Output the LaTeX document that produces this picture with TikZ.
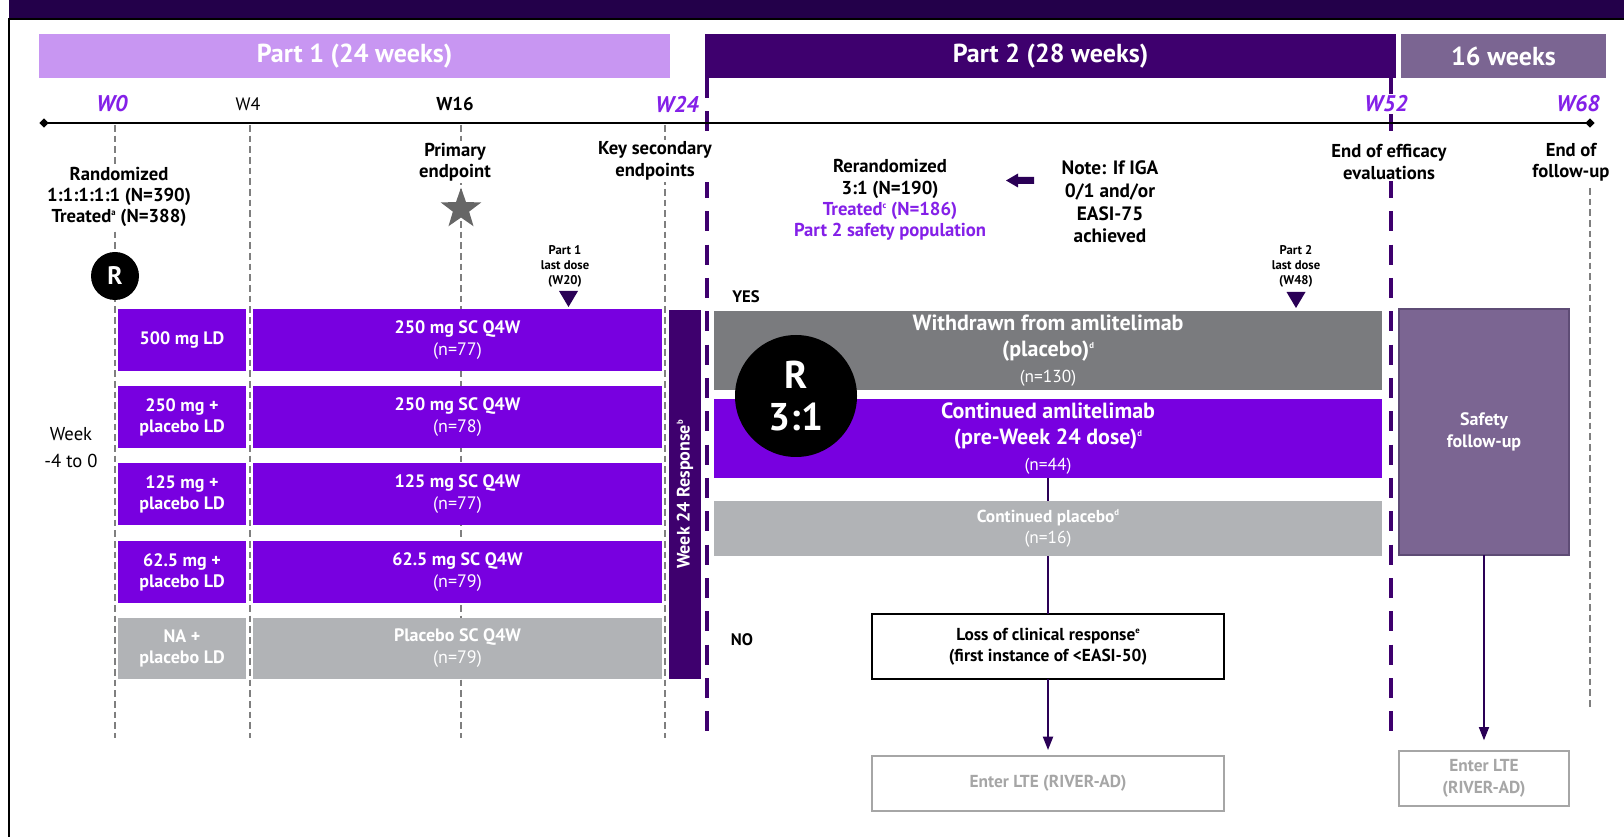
\documentclass[tikz,border=0pt]{standalone}
\usepackage{fontspec}
\setmainfont{PT Sans}
\usetikzlibrary{shapes.geometric,arrows.meta}
\definecolor{topband}{HTML}{23004A}
\definecolor{darkpurple}{HTML}{3E006E}
\definecolor{lightpurple}{HTML}{C896F2}
\definecolor{vivid}{HTML}{7800E0}
\definecolor{textpurple}{HTML}{8420E8}
\definecolor{lightgrey}{HTML}{B1B3B6}
\definecolor{darkgrey}{HTML}{7A7B7E}
\definecolor{mauve}{HTML}{7B6592}
\definecolor{safborder}{HTML}{5E4C75}
\definecolor{tripurple}{HTML}{2A0056}
\definecolor{dashgrey}{HTML}{7F7F7F}
\definecolor{ltegrey}{HTML}{A6A6A6}
\definecolor{stargrey}{HTML}{666666}
\newcommand\myfs[2]{\fontsize{#1}{#2}\selectfont}
\newcommand\msup[1]{\raisebox{0.75ex}{\myfs{6.5}{7}#1}}
\newcommand\rectnode[7]{%
  \node[box,#6,minimum width={((#4)-(#2))*0.75pt},minimum height={((#5)-(#3))*0.75pt}]
    (#1) at ({((#2)+(#4))/2},{((#3)+(#5))/2}) {#7};}
\begin{document}
\begin{tikzpicture}[x=0.75pt,y=-0.75pt,
  box/.style={inner sep=0pt,outer sep=0pt,align=center,text=white},
  lbl/.style={inner sep=1.5pt,align=center,fill=white,font=\myfs{14}{16}\bfseries},
  gdash/.style={draw=dashgrey,line width=0.8pt,dash pattern=on 5pt off 3pt},
  pdash/.style={draw=darkpurple,line width=2.4pt,dash pattern=on 15pt off 10pt},
  wlab/.style={font=\myfs{17}{19}\bfseries\itshape,text=textpurple,fill=white,inner sep=1pt},
  bartitle/.style={font=\myfs{19.5}{22}\bfseries},
  leftbox/.style={fill=vivid,font=\myfs{13.5}{15.75}\bfseries},
  mainbox/.style={fill=vivid,font=\myfs{13.5}{16.5}},
  conn/.style={draw=tripurple,line width=1.4pt},
  arr/.style={conn,-{Triangle[length=10pt,width=7.5pt]}}
]
\useasboundingbox (0,0) rectangle (1624,837);
% frame
\fill[topband] (9,0) rectangle (1624,18);
\draw[line width=1.8pt] (9,837) -- (9,19) -- (1624,19);

% phase bars
\rectnode{p1}{39}{34}{670}{78}{fill=lightpurple,bartitle}{Part 1 (24 weeks)}
\rectnode{p2}{705}{34}{1396}{78}{fill=darkpurple,bartitle}{Part 2 (28 weeks)}
\rectnode{p3}{1401}{34}{1606}{78}{fill=mauve,bartitle}{16 weeks}

% vertical guide lines
\draw[gdash] (115,125) -- (115,738);
\draw[gdash] (250,125) -- (250,738);
\draw[gdash] (461,125) -- (461,738);
\draw[gdash] (665,125) -- (665,738);
\draw[gdash] (1590,188) -- (1590,707);
\draw[pdash] (707,78) -- (707,733);
\draw[pdash] (1391,78) -- (1391,733);

% timeline
\node[diamond,fill=black,inner sep=0pt,minimum size=7pt] (tlL) at (44,123) {};
\node[diamond,fill=black,inner sep=0pt,minimum size=7pt] (tlR) at (1590,123) {};
\draw[line width=2pt] (tlL.center) -- (tlR.center);

% week labels
\node[wlab] (w0) at (112,104) {W0};
\node[lbl,font=\myfs{13.5}{16}] (w4) at (248,104) {W4};
\node[lbl] (w16) at (455,104) {W16};
\node[wlab] (w24) at (677,104) {W24};
\node[wlab] (w52) at (1386,104) {W52};
\node[wlab] (w68) at (1578,104) {W68};

% part 1 annotations
\node[lbl] (rand) at (119,197) {Randomized\\1:1:1:1:1 (N=390)\\Treated\msup{a} (N=388)};
\node[circle,fill=black,inner sep=0pt,minimum size=36pt,text=white,font=\myfs{19}{22}\bfseries] (r1) at (115,276) {R};
\node[lbl] (prim) at (455,162) {Primary\\endpoint};
\node[star,star points=5,star point ratio=2.5,fill=stargrey,inner sep=0pt,minimum size=32pt] (star) at (461,209) {};
\node[lbl] (keysec) at (655,161) {Key secondary\\endpoints};
\node[lbl,font=\myfs{9.5}{11.25}\bfseries] (ld1) at (565,266) {Part 1\\last dose\\(W20)};
\fill[tripurple] (559,291) -- (578,291) -- (568.5,307) -- cycle;

\node[align=center,font=\myfs{14}{20.25}] (wk) at (71,448) {Week\\-4 to 0};

% part 1 arms
\rectnode{l1}{118}{309}{246}{371}{leftbox}{500 mg LD}
\rectnode{m1}{253}{309}{662}{371}{mainbox}{\textbf{250 mg SC Q4W}\\(n=77)}
\rectnode{l2}{118}{386}{246}{448}{leftbox}{250 mg +\\placebo LD}
\rectnode{m2}{253}{386}{662}{448}{mainbox}{\textbf{250 mg SC Q4W}\\(n=78)}
\rectnode{l3}{118}{463}{246}{525}{leftbox}{125 mg +\\placebo LD}
\rectnode{m3}{253}{463}{662}{525}{mainbox}{\textbf{125 mg SC Q4W}\\(n=77)}
\rectnode{l4}{118}{541}{246}{603}{leftbox}{62.5 mg +\\placebo LD}
\rectnode{m4}{253}{541}{662}{603}{mainbox}{\textbf{62.5 mg SC Q4W}\\(n=79)}
\rectnode{l5}{118}{618}{246}{679}{leftbox,fill=lightgrey}{NA +\\placebo LD}
\rectnode{m5}{253}{618}{662}{679}{mainbox,fill=lightgrey}{\textbf{Placebo SC Q4W}\\(n=79)}

% week 24 response
\rectnode{w24r}{669}{310}{701}{679}{fill=darkpurple}{}
\node[rotate=90,text=white,font=\myfs{13.5}{15}\bfseries] (w24rt) at (w24r.center) {Week 24 Response\msup{b}};

% part 2 annotations
\node[lbl] (rerand) at (890,200) {Rerandomized\\3:1 (N=190)\\\textcolor{textpurple}{Treated\msup{c} (N=186)}\\\textcolor{textpurple}{Part 2 safety population}};
\fill[tripurple] (1034,177) -- (1018,177) -- (1018,173.5) -- (1006,180.5) -- (1018,187.5) -- (1018,184) -- (1034,184) -- cycle;
\node[lbl,font=\myfs{14.5}{17}\bfseries] (note) at (1110,202) {Note: If IGA\\0/1 and/or\\EASI-75\\achieved};
\node[lbl] (eoe) at (1389,162) {End of efficacy\\evaluations};
\node[lbl] (eof) at (1571,162) {End of\\follow-up};
\node[lbl,font=\myfs{9.5}{11.25}\bfseries] (ld2) at (1296,266) {Part 2\\last dose\\(W48)};
\fill[tripurple] (1286.5,292) -- (1305.5,292) -- (1296,308) -- cycle;
\node[font=\myfs{12.5}{15}\bfseries] (yes) at (746,297) {YES};
\node[font=\myfs{12.5}{15}\bfseries] (no) at (742,640) {NO};

% part 2 arms
\rectnode{wd}{714}{311}{1382}{390}{fill=darkgrey,font=\myfs{16.5}{19.5}\bfseries}{Withdrawn from amlitelimab\\(placebo)\msup{d}\\{\myfs{13}{16}\mdseries (n=130)}}
\rectnode{ca}{714}{399}{1382}{478}{fill=vivid,font=\myfs{16.5}{19.5}\bfseries}{Continued amlitelimab\\(pre-Week 24 dose)\msup{d}\\{\myfs{13}{16}\mdseries (n=44)}}
\rectnode{loss}{872}{614}{1224}{679}{draw=black,line width=1.2pt,fill=white,text=black,font=\myfs{13}{16}\bfseries}{Loss of clinical response\msup{e}\\(first instance of <EASI-50)}
\draw[conn] (ca.south) -- (loss.north);
\rectnode{cp}{714}{501}{1382}{556}{fill=lightgrey,font=\myfs{13}{16}}{\textbf{Continued placebo\msup{d}}\\(n=16)}
\node[circle,fill=black,inner sep=0pt,minimum size=91.5pt,text=white,align=center,font=\myfs{29}{32}\bfseries] (r2) at (796,396) {R\\3:1};
\rectnode{saf}{1399}{309}{1569}{555}{fill=mauve,draw=safborder,line width=1pt,font=\myfs{13.5}{16}\bfseries}{Safety\\follow-up}
\rectnode{lte1}{872}{756}{1224}{811}{draw=ltegrey,line width=1pt,fill=white,text=ltegrey,font=\myfs{13}{16}\bfseries}{Enter LTE (RIVER-AD)}
\rectnode{lte2}{1399}{751}{1569}{806}{draw=ltegrey,line width=1pt,fill=white,text=ltegrey,font=\myfs{13}{16.5}\bfseries}{Enter LTE\\(RIVER-AD)}
\draw[arr,shorten >=4.5pt] (loss.south) -- (lte1.north);
\draw[arr,shorten >=8pt] (saf.south) -- (lte2.north);
\end{tikzpicture}
\end{document}
